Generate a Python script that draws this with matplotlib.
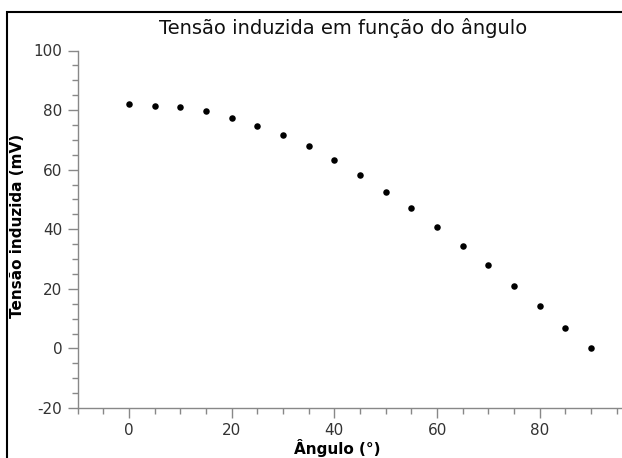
import matplotlib
matplotlib.use("Agg")
import matplotlib.pyplot as plt
from matplotlib.ticker import MultipleLocator
from matplotlib.patches import Rectangle

angles = [0, 5, 10, 15, 20, 25, 30, 35, 40, 45, 50, 55, 60, 65, 70, 75, 80, 85, 90]
voltage_mv = [81.9, 81.4, 80.9, 79.7, 77.5, 74.6, 71.7, 67.8, 63.3, 58.2,
              52.4, 47.3, 40.9, 34.3, 28.0, 20.8, 14.2, 7.0, 0.3]

title = "Tensão induzida em função do ângulo"
xlabel = "Ângulo (°)"
ylabel = "Tensão induzida (mV)"

plt.rcParams['font.family'] = ['DejaVu Sans']
plt.rcParams['axes.unicode_minus'] = False

W, H = 622, 458
fig = plt.figure(figsize=(W / 100, H / 100), dpi=100)

# axes placement (pixels)
left, right, top, bottom = 77.5, 622, 50.5, 408
ax = fig.add_axes([left / W, 1 - bottom / H, (right - left) / W, (bottom - top) / H])

ax.scatter(angles, voltage_mv, s=22, color='black', zorder=3, linewidths=0)

ax.set_xlim(-10, 96)
ax.set_ylim(-20, 100)
ax.xaxis.set_major_locator(MultipleLocator(20))
ax.xaxis.set_minor_locator(MultipleLocator(5))
ax.yaxis.set_major_locator(MultipleLocator(20))
ax.yaxis.set_minor_locator(MultipleLocator(5))

for s in ['top', 'right']:
    ax.spines[s].set_visible(False)
for s in ['left', 'bottom']:
    ax.spines[s].set_color('#888888')
    ax.spines[s].set_linewidth(1.0)

ax.tick_params(which='major', direction='out', length=7, width=1, color='#888888',
               labelsize=11, labelcolor='#333333', pad=4)
ax.tick_params(which='minor', direction='out', length=4, width=1, color='#888888')

ax.set_xlabel(xlabel, fontsize=11, fontweight='bold')
ax.set_ylabel(ylabel, fontsize=11, fontweight='bold')
ax.xaxis.set_label_coords((337 - left) / (right - left), -(439 - bottom) / (bottom - top))
ax.xaxis.label.set_va('top')
ax.yaxis.set_label_coords((25 - left) / (right - left), 0.51)

fig.text(343 / W, 1 - 28 / H, title, ha='center', va='center', fontsize=14, color='#111111')

# outer border
rect = Rectangle((6.5 / W, -0.1), 1.2, 1 - 12 / H + 0.1, transform=fig.transFigure,
                 fill=False, edgecolor='black', linewidth=1.5)
fig.patches.append(rect)

fig.savefig("out.png", dpi=100)
